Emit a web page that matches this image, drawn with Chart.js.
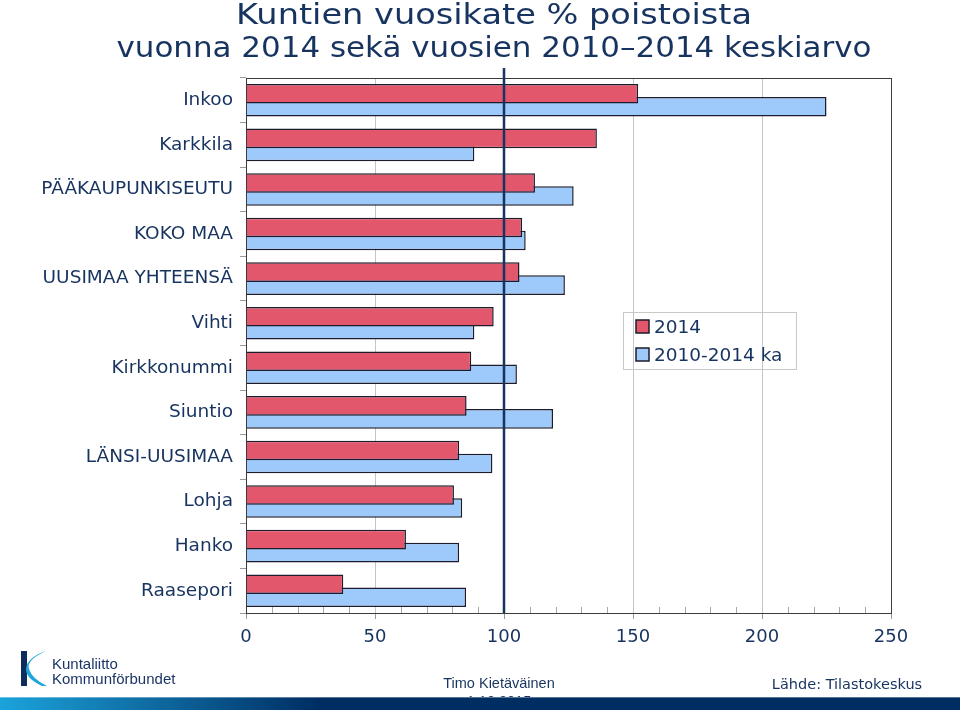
<!DOCTYPE html>
<html>
<head>
<meta charset="utf-8">
<script src="https://cdn.jsdelivr.net/npm/chart.js@4"></script>
<style>
  body { margin: 0; background: #fff; }
  canvas { display: block; }
</style>
</head>
<body>
<canvas id="chart" width="960" height="710"></canvas>
<script>
// data
const kunnat = ['Inkoo', 'Karkkila', 'PÄÄKAUPUNKISEUTU', 'KOKO MAA', 'UUSIMAA YHTEENSÄ', 'Vihti',
  'Kirkkonummi', 'Siuntio', 'LÄNSI-UUSIMAA', 'Lohja', 'Hanko', 'Raasepori']
const v2014 = [152, 136, 112, 107, 106, 96, 87.3, 85.5, 82.6, 80.6, 62, 37.7]
const ka2010_2014 = [225, 88.5, 127, 108.4, 123.6, 88.5, 105, 119, 95.5, 83.8, 82.6, 85.3]
const seriesNames = ['2014', '2010-2014 ka']
const xTicks = [0, 50, 100, 150, 200, 250]

const NAVY = '#17335f'
const FONT = '"DejaVu Sans", Verdana, sans-serif'

// text a bit wider than DejaVu gives, like the original slide
function wideText(ctx, txt, cx, cy, w) {
  const m = ctx.measureText(txt).width
  ctx.save()
  ctx.translate(cx, cy)
  ctx.scale(w / m, 1)
  ctx.fillText(txt, 0, 0)
  ctx.restore()
}

const decor = {
  id: 'decor',
  afterDatasetsDraw(chart) {
    const { ctx, chartArea: a, scales: { x } } = chart
    ctx.save()
    // minor ticks inside the plot
    ctx.strokeStyle = '#a8a8a8'
    ctx.lineWidth = 1
    for (let v = 10; v < 250; v += 10) {
      if (v % 50 === 0) continue
      const px = Math.round(x.getPixelForValue(v)) + 0.5
      ctx.beginPath(); ctx.moveTo(px, a.bottom - 6); ctx.lineTo(px, a.bottom); ctx.stroke()
    }
    // frame
    ctx.strokeStyle = '#3c3c3c'
    ctx.strokeRect(a.left + 0.5, a.top + 0.5, a.right - a.left, a.bottom - a.top)
    // 100 line
    const p100 = x.getPixelForValue(100)
    ctx.strokeStyle = NAVY
    ctx.lineWidth = 2.5
    ctx.beginPath(); ctx.moveTo(p100, a.top - 10); ctx.lineTo(p100, a.bottom); ctx.stroke()
    ctx.restore()
  },
  afterDraw(chart) {
    const { ctx } = chart
    ctx.save()
    // titles
    ctx.fillStyle = NAVY
    ctx.textAlign = 'center'
    ctx.textBaseline = 'middle'
    ctx.font = '28px ' + FONT
    wideText(ctx, 'Kuntien vuosikate % poistoista', 494, 17, 516)
    wideText(ctx, 'vuonna 2014 sekä vuosien 2010–2014 keskiarvo', 494, 50, 755)

    // legend
    ctx.strokeStyle = '#c8c8c8'
    ctx.lineWidth = 1
    ctx.strokeRect(623.5, 312.5, 173, 57)
    ctx.textAlign = 'left'
    ctx.font = '18.5px ' + FONT
    chart.data.datasets.forEach((ds, i) => {
      const y = 327 + i * 28
      ctx.fillStyle = ds.backgroundColor
      ctx.fillRect(636, y - 7, 13, 13)
      ctx.strokeStyle = '#1c1c2c'
      ctx.lineWidth = 1.5
      ctx.strokeRect(636, y - 7, 13, 13)
      ctx.fillStyle = NAVY
      ctx.fillText(ds.label, 654, y + 1)
    })

    // footer texts
    ctx.font = '14.5px "Liberation Sans Narrow", "Liberation Sans", sans-serif'
    ctx.textAlign = 'center'
    ctx.fillStyle = NAVY
    ctx.fillText('Timo Kietäväinen', 499, 684)
    ctx.fillText('1.10.2015', 499, 702)
    ctx.font = '14.5px ' + FONT
    ctx.fillText('Lähde: Tilastokeskus', 847, 685)

    // logo
    ctx.fillStyle = '#0f2d5c'
    ctx.fillRect(21, 651, 6, 35)
    ctx.fillStyle = '#1ea5dc'
    ctx.beginPath()
    ctx.moveTo(46, 651)
    ctx.quadraticCurveTo(26, 660, 29, 669)
    ctx.quadraticCurveTo(32, 679, 47, 686)
    ctx.lineTo(42, 686)
    ctx.quadraticCurveTo(25, 678, 26, 668)
    ctx.quadraticCurveTo(28, 657, 46, 651)
    ctx.fill()
    ctx.fillStyle = '#1b3566'
    ctx.textAlign = 'left'
    ctx.font = '15px "Liberation Sans Narrow", "Liberation Sans", sans-serif'
    ctx.fillText('Kuntaliitto', 52, 665)
    ctx.fillText('Kommunförbundet', 52, 680)

    // bottom band
    const g = ctx.createLinearGradient(0, 0, 320, 0)
    g.addColorStop(0, '#1ba3db')
    g.addColorStop(1, '#002d62')
    ctx.fillStyle = g
    ctx.fillRect(0, 697, 960, 13)
    ctx.fillStyle = 'rgba(255,255,255,0.35)'
    ctx.fillRect(0, 697, 960, 1)
    ctx.restore()
  }
}

new Chart(document.getElementById('chart'), {
  type: 'bar',
  data: {
    labels: kunnat,
    datasets: [
      { label: seriesNames[0], data: v2014, backgroundColor: '#e2576c' },
      { label: seriesNames[1], data: ka2010_2014, backgroundColor: '#9dcafa' }
    ]
  },
  options: {
    indexAxis: 'y',
    responsive: false,
    animation: false,
    events: [],
    layout: { padding: { top: 78, right: 69, bottom: 57, left: 0 } },
    datasets: {
      bar: {
        borderColor: '#1c1c2c',
        borderWidth: 1.5,
        categoryPercentage: 0.585,
        barPercentage: 1.5
      }
    },
    plugins: { legend: { display: false }, tooltip: { enabled: false } },
    scales: {
      x: {
        min: 0,
        max: 250,
        afterBuildTicks: s => { s.ticks = xTicks.map(v => ({ value: v })) },
        afterFit: s => { s.height = 40 },
        grid: {
          color: c => (c.tick && c.tick.value === 100 ? 'rgba(0,0,0,0)' : '#c4c4c4'),
          tickColor: '#9a9a9a',
          tickLength: 6
        },
        border: { color: '#3c3c3c' },
        ticks: { color: NAVY, font: { family: FONT, size: 18 }, padding: 8 }
      },
      y: {
        afterFit: s => { s.width = 246 },
        grid: { drawOnChartArea: false, offset: true, tickLength: 6, color: '#9a9a9a' },
        border: { color: '#3c3c3c' },
        ticks: { color: NAVY, font: { family: FONT, size: 18.5 }, padding: 7, autoSkip: false }
      }
    }
  },
  plugins: [decor]
})
</script>
</body>
</html>
